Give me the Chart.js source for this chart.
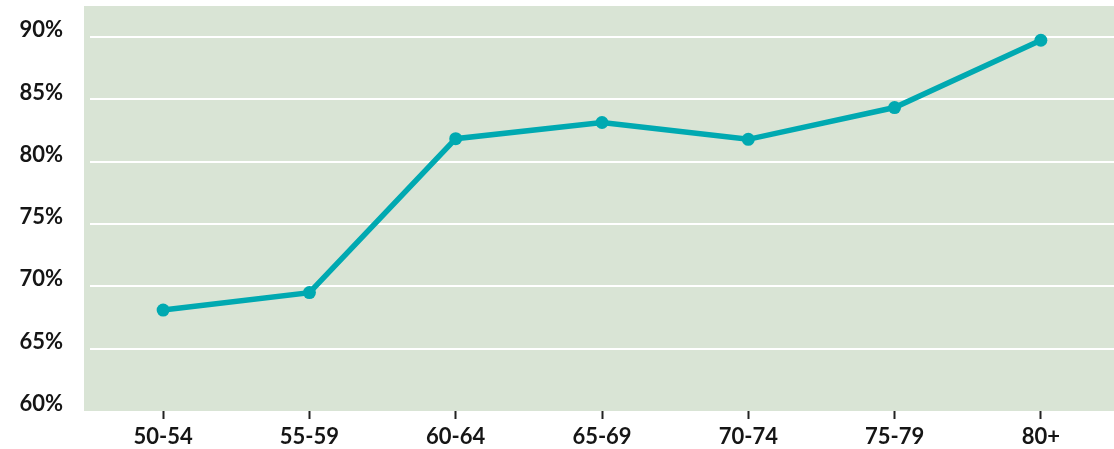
<!DOCTYPE html>
<html>
<head>
<meta charset="utf-8">
<script src="https://cdn.jsdelivr.net/npm/chart.js@4/dist/chart.umd.min.js"></script>
<style>
  html, body { margin: 0; padding: 0; background: #fff; overflow: hidden; }
  #wrap { width: 1114px; height: 449px; }
</style>
</head>
<body>
<div id="wrap"><canvas id="c"></canvas></div>
<script>
// Age groups and share (%)
const ageGroups = ['50-54', '55-59', '60-64', '65-69', '70-74', '75-79', '80+'];
const shares = [68.1, 69.5, 81.85, 83.15, 81.8, 84.35, 89.75];
const yMin = 60;
const yMax = 92.5;
const yStep = 5;

const lineColor = '#00a9b1';
const panelColor = '#d9e4d5';
const textColor = '#151515';

/* Paint the green panel behind the plot */
const panelBg = {
  id: 'panelBg',
  beforeDraw(chart) {
    const a = chart.chartArea;
    const ctx = chart.ctx;
    ctx.save();
    ctx.fillStyle = panelColor;
    ctx.fillRect(84, a.top, a.right - 84, a.bottom - a.top);
    ctx.restore();
  }
};

new Chart(document.getElementById('c').getContext('2d'), {
  type: 'line',
  data: {
    labels: ageGroups,
    datasets: [{
      data: shares,
      borderColor: lineColor,
      backgroundColor: lineColor,
      borderWidth: 5.5,
      pointRadius: 6.5,
      pointBorderWidth: 0,
      pointHoverRadius: 6.5,
      tension: 0,
      clip: false
    }]
  },
  options: {
    responsive: true,
    maintainAspectRatio: false,
    animation: false,
    layout: { autoPadding: false, padding: { top: 6, right: 0, bottom: 0, left: 0 } },
    plugins: {
      legend: { display: false },
      tooltip: { enabled: false }
    },
    scales: {
      x: {
        offset: true,
        border: { display: false },
        grid: {
          drawOnChartArea: false,
          drawTicks: true,
          tickLength: 8,
          tickWidth: 2,
          tickColor: '#222'
        },
        ticks: {
          color: textColor,
          padding: 5,
          font: { family: 'Lato', size: 22, weight: 'bold' },
          maxRotation: 0
        },
        afterFit(scale) {
          scale.height = 38;
          scale.paddingLeft = 0;
          scale.paddingRight = 0;
        }
      },
      y: {
        min: yMin,
        max: yMax,
        border: { display: false },
        grid: {
          drawTicks: false,
          lineWidth: 2,
          color: ctx => (ctx.tick && ctx.tick.value === yMin) ? 'rgba(0,0,0,0)' : '#ffffff'
        },
        ticks: {
          stepSize: yStep,
          color: textColor,
          padding: 27,
          labelOffset: -7,
          font: { family: 'Lato', size: 22, weight: 'bold' },
          callback: v => v + '%'
        },
        afterBuildTicks(scale) {
          scale.ticks = scale.ticks.filter(t => t.value % yStep === 0);
        },
        afterFit(scale) {
          scale.width = 90;
          scale.paddingTop = 0;
          scale.paddingBottom = 0;
        }
      }
    }
  },
  plugins: [panelBg]
});
</script>
</body>
</html>
